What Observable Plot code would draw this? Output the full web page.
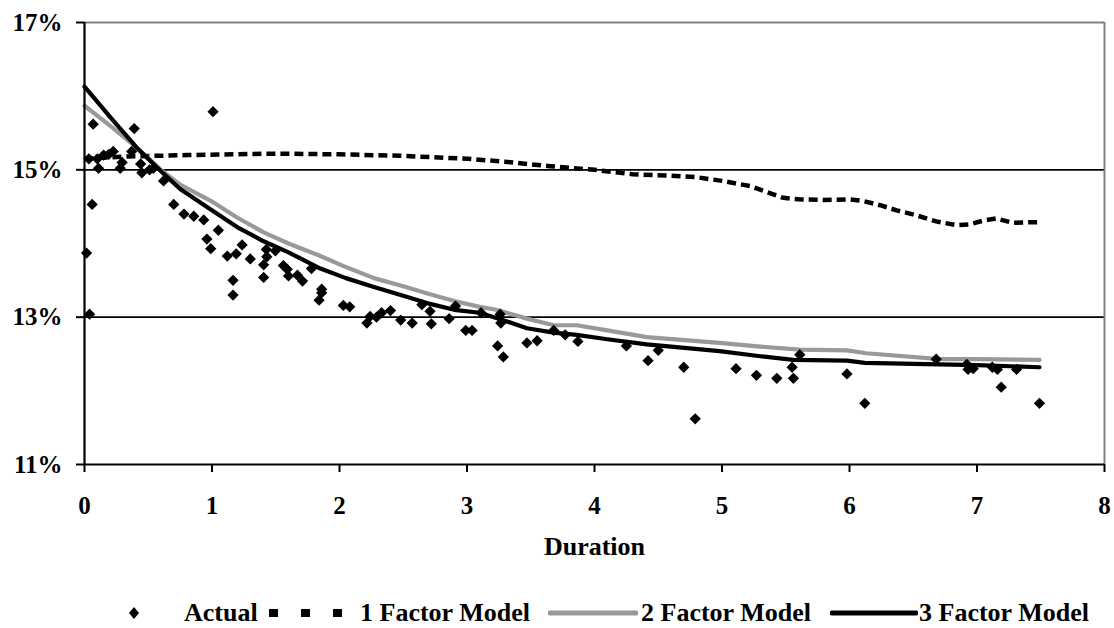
<!DOCTYPE html>
<html><head><meta charset="utf-8">
<script src="https://cdn.jsdelivr.net/npm/d3@7"></script>
<script src="https://cdn.jsdelivr.net/npm/@observablehq/plot@0.6"></script>
<style>
body{margin:0;background:#fff;font-family:"Liberation Serif","Times New Roman",serif;font-weight:bold;color:#000;}
#legend{position:relative;width:1114px;height:53px;}
#legend .t{position:absolute;top:25px;font-size:26px;line-height:26px;white-space:nowrap;}
#legend svg{position:absolute;top:28px;}
</style></head><body>
<div id="chart"></div>
<div id="legend"></div>
<script>
// ----- data -----
const actualDuration = [0.016,0.04,0.06,0.068,0.034,0.10,0.11,0.15,0.19,0.225,0.28,0.295,0.37,0.39,0.44,0.45,0.51,0.54,
  0.62,0.70,0.78,0.857,0.935,0.96,0.99,1.008,1.05,1.12,1.165,1.165,1.19,1.236,1.30,1.405,1.405,1.426,1.43,1.497,1.56,1.59,1.60,1.67,1.71,1.78,1.84,1.86,1.86,
  2.03,2.08,2.215,2.24,2.29,2.33,2.40,2.48,2.57,2.646,2.71,2.72,2.86,2.91,2.99,3.04,3.11,3.24,3.26,3.265,3.285,3.47,3.55,3.68,3.77,3.87,
  4.25,4.42,4.50,4.70,4.79,5.11,5.27,5.43,5.55,5.56,5.61,5.98,6.12,6.68,6.92,6.93,6.97,7.12,7.16,7.19,7.31,7.49];
const actualRate = [13.87,13.04,14.53,15.62,15.15,15.15,15.02,15.20,15.21,15.25,15.02,15.10,15.25,15.56,15.08,14.96,15.00,15.02,
  14.85,14.53,14.40,14.37,14.32,14.06,13.93,15.79,14.18,13.83,13.50,13.30,13.86,13.98,13.79,13.71,13.54,13.92,13.82,13.90,13.70,13.65,13.56,13.57,13.49,13.66,13.23,13.38,13.33,
  13.16,13.14,12.92,13.01,13.00,13.06,13.09,12.96,12.92,13.17,13.08,12.91,12.98,13.15,12.82,12.82,13.06,12.61,13.04,12.92,12.46,12.65,12.68,12.82,12.76,12.67,
  12.61,12.41,12.55,12.32,11.62,12.30,12.21,12.17,12.32,12.17,12.49,12.23,11.83,12.43,12.36,12.29,12.30,12.32,12.29,12.05,12.29,11.83];

const oneFactorDuration = [0,0.3,0.8,1.5,2.0,2.5,3.0,3.3,3.65,4.0,4.3,4.6,4.8,5.0,5.22,5.48,5.6,5.8,6.0,6.1,6.24,6.37,6.51,6.68,6.84,6.94,7.05,7.15,7.28,7.43,7.49];
const oneFactorRate     = [15.15,15.18,15.20,15.22,15.21,15.19,15.15,15.11,15.05,15.00,14.94,14.92,14.90,14.85,14.78,14.62,14.60,14.59,14.60,14.58,14.52,14.45,14.39,14.30,14.25,14.26,14.31,14.34,14.28,14.29,14.29];

const twoFactorDuration = [0,0.2,0.41,0.6,0.75,0.99,1.2,1.405,1.6,1.85,2.05,2.27,2.5,2.71,2.9,3.1,3.23,3.47,3.68,3.86,4.1,4.41,4.98,5.3,5.61,5.98,6.13,6.71,7.0,7.49];
const twoFactorRate     = [15.87,15.60,15.30,15.00,14.80,14.58,14.35,14.15,14.00,13.83,13.68,13.53,13.42,13.31,13.22,13.14,13.10,12.98,12.89,12.89,12.82,12.73,12.65,12.60,12.56,12.55,12.51,12.43,12.43,12.42];

const threeFactorDuration = [0,0.2,0.41,0.6,0.75,0.99,1.2,1.405,1.6,1.85,2.05,2.27,2.5,2.71,2.9,3.1,3.23,3.47,3.68,3.86,4.1,4.41,4.98,5.3,5.56,5.98,6.12,6.7,7.0,7.49];
const threeFactorRate     = [16.13,15.72,15.30,14.98,14.74,14.46,14.22,14.03,13.88,13.66,13.53,13.41,13.29,13.18,13.10,13.06,12.99,12.85,12.79,12.76,12.70,12.63,12.54,12.47,12.42,12.41,12.38,12.36,12.35,12.32];

const xTicks = [0,1,2,3,4,5,6,7,8];
const yTicks = [11,13,15,17];
const gridValues = [13,15];
const seriesNames = ["Actual","1 Factor Model","2 Factor Model","3 Factor Model"];
const xLabel = "Duration";

// ----- tables -----
const zip = (xs, ys) => xs.map((d, i) => ({d, v: ys[i]}));
const actual = zip(actualDuration, actualRate);
const one = zip(oneFactorDuration, oneFactorRate);
const two = zip(twoFactorDuration, twoFactorRate);
const three = zip(threeFactorDuration, threeFactorRate);

const font = '"Liberation Serif","Times New Roman",serif';
const chart = Plot.plot({
  width: 1114, height: 575,
  marginLeft: 84, marginRight: 10, marginTop: 22, marginBottom: 111,
  style: {fontFamily: font, fontSize: "25px", fontWeight: "bold", color: "black", background: "white", overflow: "visible"},
  x: {domain: [0, 8]},
  y: {domain: [11, 17]},
  marks: [
    Plot.ruleY(gridValues, {stroke: "black", strokeWidth: 1.6}),
    Plot.ruleY([17], {stroke: "#808080", strokeWidth: 2}),
    Plot.ruleX([8], {stroke: "#808080", strokeWidth: 2}),
    Plot.line(one, {x: "d", y: "v", stroke: "black", strokeWidth: 4.5, strokeDasharray: "9,5", strokeLinecap: "butt", curve: "linear"}),
    Plot.line(two, {x: "d", y: "v", stroke: "#999999", strokeWidth: 4.2}),
    Plot.line(three, {x: "d", y: "v", stroke: "black", strokeWidth: 4.2}),
    Plot.dot(actual, {x: "d", y: "v", symbol: "square", r: 4.5, rotate: 45, fill: "black", stroke: "none"}),
    Plot.ruleX([0], {stroke: "black", strokeWidth: 2.2}),
    Plot.ruleY([11], {stroke: "black", strokeWidth: 2.2}),
    Plot.axisX({ticks: xTicks, tickFormat: d => String(d), tickSize: 8, tickPadding: 24, strokeWidth: 2, label: null}),
    Plot.axisY({ticks: yTicks, tickFormat: d => d + "%", tickSize: 8, tickPadding: 14, strokeWidth: 2, label: null}),
    Plot.text([xLabel], {frameAnchor: "bottom", dy: 90, fontSize: 26, fontWeight: "bold", fill: "black"})
  ]
});
document.getElementById("chart").appendChild(chart);

// ----- legend -----
const lg = document.getElementById("legend");
const ns = "http://www.w3.org/2000/svg";
function addText(txt, left){ const s=document.createElement("span"); s.className="t"; s.style.left=left+"px"; s.textContent=txt; lg.appendChild(s); }
function addSwatch(left, w, build){ const s=document.createElementNS(ns,"svg"); s.setAttribute("width",w); s.setAttribute("height",20); s.style.left=left+"px"; build(s); lg.appendChild(s); }
function el(name, attrs){ const e=document.createElementNS(ns,name); for(const k in attrs) e.setAttribute(k,attrs[k]); return e; }
addSwatch(128, 12, s => s.appendChild(el("path",{d:"M6,4 L11,10 L6,16 L1,10 Z",fill:"black"})));
addText(seriesNames[0], 184);
addSwatch(269, 78, s => s.appendChild(el("line",{x1:0,y1:10,x2:78,y2:10,stroke:"black","stroke-width":8,"stroke-dasharray":"9,23"})));
addText(seriesNames[1], 360);
addSwatch(548, 90, s => s.appendChild(el("line",{x1:2,y1:10,x2:88,y2:10,stroke:"#999999","stroke-width":5,"stroke-linecap":"round"})));
addText(seriesNames[2], 641);
addSwatch(830, 88, s => s.appendChild(el("line",{x1:2,y1:10,x2:86,y2:10,stroke:"black","stroke-width":5,"stroke-linecap":"round"})));
addText(seriesNames[3], 919);
</script></body></html>
